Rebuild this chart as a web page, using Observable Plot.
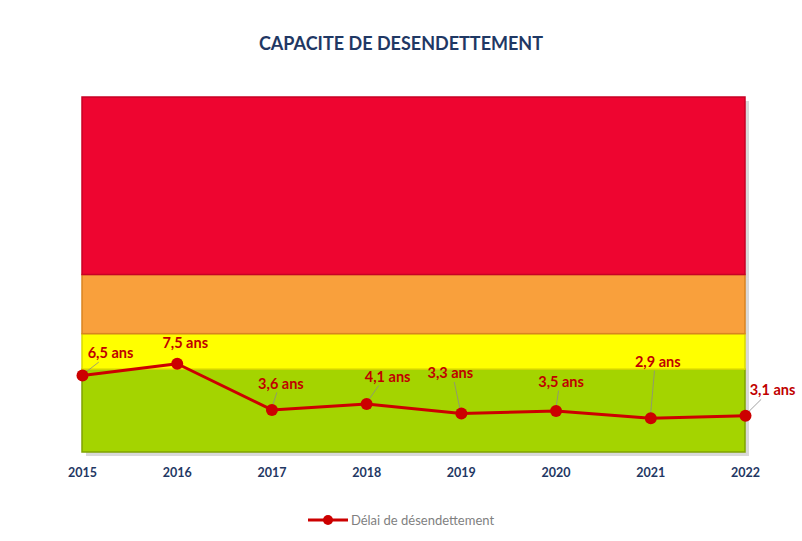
<!DOCTYPE html>
<html><head><meta charset="utf-8">
<script src="https://cdn.jsdelivr.net/npm/d3@7"></script>
<script src="https://cdn.jsdelivr.net/npm/@observablehq/plot@0.6"></script>
<style>
body{margin:0;background:#fff;font-family:Lato,"Open Sans",sans-serif;width:802px;height:541px;overflow:hidden;}
#title{height:70px;box-sizing:border-box;padding-top:32px;text-align:center;font-weight:bold;font-size:18px;color:#1F3864;}
#legend{display:flex;justify-content:center;align-items:center;margin-top:22px;font-size:13px;color:#7f7f7f;}
</style></head><body>
<div id="title">CAPACITE DE DESENDETTEMENT</div>
<div id="chart"></div>
<div id="legend"><svg width="40" height="12"><line x1="0" y1="6" x2="40" y2="6" stroke="#CC0000" stroke-width="3"/><circle cx="20" cy="6" r="5" fill="#CC0000"/></svg><span style="margin-left:3px">Délai de désendettement</span></div>
<script>
const years = [2015, 2016, 2017, 2018, 2019, 2020, 2021, 2022];
const delai = [6.5, 7.5, 3.6, 4.1, 3.3, 3.5, 2.9, 3.1];
const labels = ["6,5 ans","7,5 ans","3,6 ans","4,1 ans","3,3 ans","3,5 ans","2,9 ans","3,1 ans"];
const bandLow = [0, 7, 10, 15];
const bandHigh = [7, 10, 15, 30];
const bandColors = ["#A4D400", "#FFFF00", "#F9A03C", "#EE0530"];
const bandStroke = ["#7FA300", "#D9D900", "#D98420", "#C80025"];
const labelDx = [28, 8, 9, 21, -11, 5, 7, 27];
const labelDy = [-22, -20, -26, -27, -40, -29, -56, -25];

const points = years.map((y, i) => ({year: y, value: delai[i], label: labels[i], dx: labelDx[i], dy: labelDy[i]}));
const bands = bandLow.map((lo, i) => ({lo, hi: bandHigh[i], fill: bandColors[i], stroke: bandStroke[i]}));

// leader lines from each point toward its label, drawn through the scales
function leaders(index, scales) {
  const g = document.createElementNS("http://www.w3.org/2000/svg", "g");
  points.forEach(p => {
    if (Math.abs(p.dy) < 21) return;
    const x = scales.x(p.year), y = scales.y(p.value);
    const l = document.createElementNS("http://www.w3.org/2000/svg", "line");
    l.setAttribute("x1", x);
    l.setAttribute("y1", y);
    l.setAttribute("x2", x + p.dx * 0.6);
    l.setAttribute("y2", y + p.dy + 9);
    l.setAttribute("stroke", "#8a8a8a");
    l.setAttribute("stroke-width", "0.8");
    g.appendChild(l);
  });
  return g;
}

const chart = Plot.plot({
  width: 802,
  height: 420,
  marginLeft: 82,
  marginRight: 57,
  marginTop: 27,
  marginBottom: 38,
  style: {fontFamily: "Lato, 'Open Sans', sans-serif", overflow: "visible"},
  x: {type: "linear", domain: [2015, 2022], label: null},
  y: {domain: [0, 30], axis: null},
  marks: [
    Plot.rect(bands, {x1: 2015, x2: 2022, y1: "lo", y2: "hi", dx: 4, dy: 4, fillOpacity: 0.25, fill: "#666"}),
    Plot.rect(bands, {x1: 2015, x2: 2022, y1: "lo", y2: "hi", fill: d => d.fill, stroke: d => d.stroke, strokeWidth: 1.5}),
    Plot.axisX({ticks: years, tickFormat: d => String(d), tickSize: 0, tickPadding: 16, fontWeight: "bold", fontSize: 12.5, color: "#1F3864"}),
    leaders,
    Plot.line(points, {x: "year", y: "value", stroke: "#CC0000", strokeWidth: 3}),
    Plot.dot(points, {x: "year", y: "value", r: 6, fill: "#CC0000"}),
    ...points.map(p => Plot.text([p], {x: "year", y: "value", text: "label", dx: p.dx, dy: p.dy, fill: "#C00000", fontWeight: "bold", fontSize: 14.5}))
  ]
});
document.getElementById("chart").appendChild(chart);
</script>
</body></html>
